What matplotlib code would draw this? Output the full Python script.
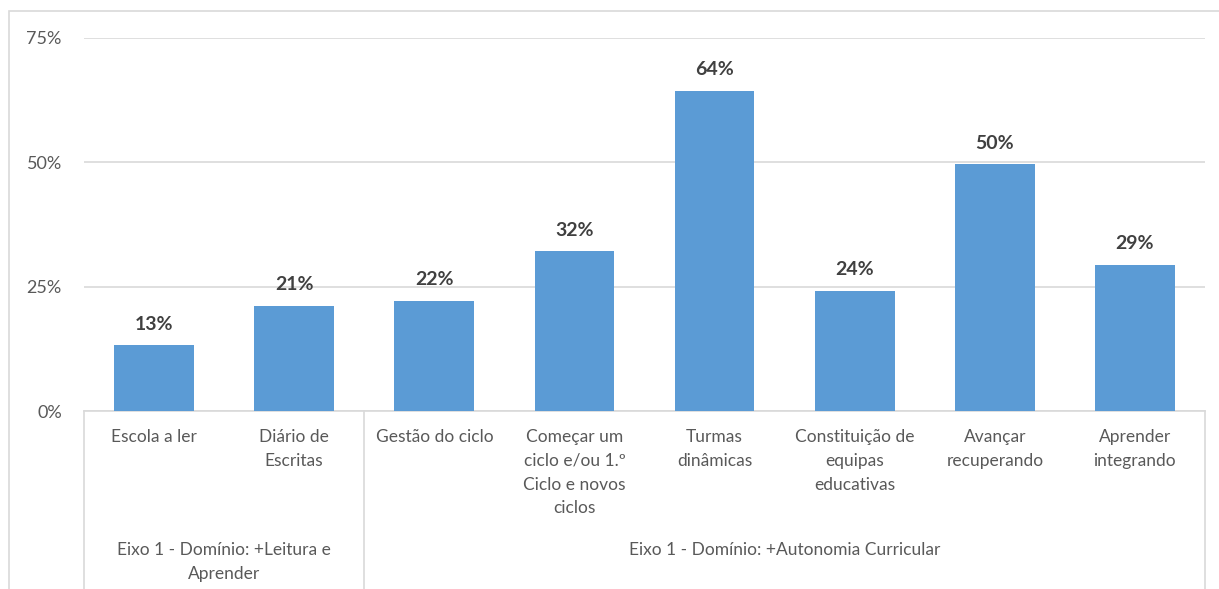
import matplotlib
matplotlib.use("Agg")
import matplotlib.pyplot as plt
from matplotlib.patches import Rectangle
import matplotlib.transforms as mtrans

categories = ["Escola a ler", "Diário de\nEscritas", "Gestão do ciclo",
              "Começar um\nciclo e/ou 1.º\nCiclo e novos\nciclos", "Turmas\ndinâmicas",
              "Constituição de\nequipas\neducativas", "Avançar\nrecuperando", "Aprender\nintegrando"]
values = [13.2, 21.2, 22.2, 32.1, 64.4, 24.2, 49.6, 29.4]
yticks = [0, 25, 50, 75]
ytick_labels = ["0%", "25%", "50%", "75%"]
groups = ["Eixo 1 - Domínio: +Leitura e\nAprender", "Eixo 1 - Domínio: +Autonomia Curricular"]
group_spans = [(0, 1), (2, 7)]

plt.rcParams['font.family'] = ['Lato', 'DejaVu Sans']
W, H = 1219, 589
fig = plt.figure(figsize=(W/100, H/100), dpi=100)
ax = fig.add_axes([84/W, 1-411/H, (1205-84)/W, (411-38)/H])

bar_color = "#5B9BD5"
x = list(range(len(values)))
ax.bar(x, values, width=0.57, color=bar_color, zorder=3)
ax.set_xlim(-0.5, len(values)-0.5)
ax.set_ylim(0, 75)
ax.set_yticks(yticks)
ax.set_yticklabels(ytick_labels, fontsize=13, color="#595959")
ax.tick_params(axis='y', length=0, pad=16)
ax.grid(axis='y', color="#D9D9D9", linewidth=1.2, zorder=0)
for s in ["top", "right", "left"]:
    ax.spines[s].set_visible(False)
ax.spines["bottom"].set_color("#D9D9D9")
ax.spines["bottom"].set_linewidth(1.2)

ax.set_xticks(x)
ax.set_xticklabels(categories, fontsize=12.5, color="#595959", linespacing=1.6, va='top')
ax.tick_params(axis='x', length=0, pad=13)

for xi, v in zip(x, values):
    ax.annotate(f"{v:.0f}%", (xi, v), xytext=(0, 9), textcoords="offset points",
                ha='center', va='bottom', fontsize=14, fontweight='bold', color="#404040")

trans = mtrans.blended_transform_factory(ax.transData, ax.transAxes)
for sep in [-0.5, 1.5, 7.5]:
    ax.plot([sep, sep], [0, -0.6], transform=trans, color="#D9D9D9", lw=1.2, clip_on=False)
for label, (a, b) in zip(groups, group_spans):
    ax.text((a+b)/2, -(542-411)/373, label, transform=trans, ha='center', va='top',
            fontsize=12.5, color="#595959", linespacing=1.6)

fig.patches.append(Rectangle((9/W, -0.1), 1.2, 1.1-11/H, transform=fig.transFigure,
                             fill=False, edgecolor="#D9D9D9", lw=1.2))

fig.savefig("out.png", dpi=100)
